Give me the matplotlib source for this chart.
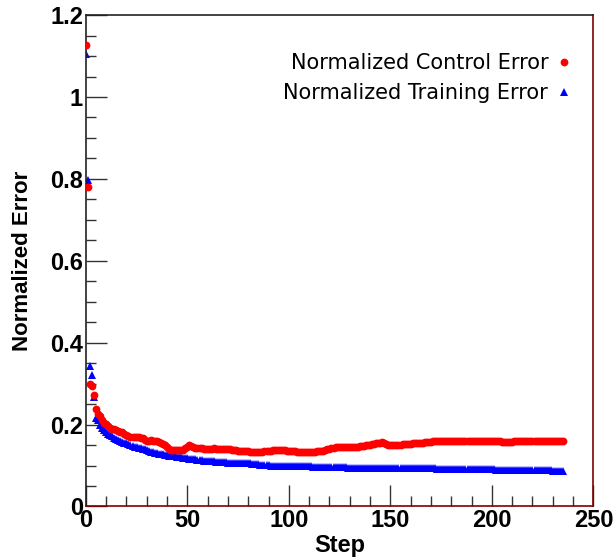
import matplotlib
matplotlib.use('Agg')
import matplotlib.pyplot as plt
import numpy as np
from matplotlib.ticker import MultipleLocator

# normalized control error (red circles), one value per step
control_err = [
    1.128, 0.781, 0.300, 0.293, 0.272, 0.238, 0.226, 0.220, 0.210, 0.205,
    0.202, 0.196, 0.192, 0.190, 0.188, 0.187, 0.185, 0.183, 0.181, 0.178,
    0.175, 0.172, 0.170, 0.169, 0.169, 0.170, 0.169, 0.168, 0.166, 0.163,
    0.161, 0.161, 0.162, 0.161, 0.161, 0.160, 0.157, 0.154, 0.153, 0.150,
    0.145, 0.141, 0.139, 0.138, 0.137, 0.137, 0.137, 0.138, 0.139, 0.142,
    0.146, 0.149, 0.148, 0.145, 0.143, 0.143, 0.142, 0.142, 0.141, 0.141,
    0.141, 0.141, 0.141, 0.142, 0.141, 0.141, 0.140, 0.140, 0.141, 0.141,
    0.141, 0.140, 0.139, 0.138, 0.137, 0.136, 0.136, 0.136, 0.135, 0.135,
    0.135, 0.134, 0.134, 0.134, 0.134, 0.134, 0.134, 0.134, 0.135, 0.135,
    0.136, 0.136, 0.137, 0.137, 0.138, 0.138, 0.138, 0.137, 0.137, 0.136,
    0.136, 0.135, 0.135, 0.135, 0.134, 0.134, 0.134, 0.134, 0.134, 0.134,
    0.134, 0.134, 0.134, 0.134, 0.135, 0.135, 0.135, 0.136, 0.138, 0.140,
    0.141, 0.142, 0.143, 0.144, 0.144, 0.145, 0.145, 0.144, 0.144, 0.145,
    0.145, 0.145, 0.146, 0.146, 0.146, 0.147, 0.147, 0.148, 0.149, 0.150,
    0.151, 0.152, 0.153, 0.154, 0.155, 0.156, 0.157, 0.155, 0.152, 0.151,
    0.151, 0.151, 0.151, 0.151, 0.151, 0.151, 0.152, 0.152, 0.152, 0.153,
    0.153, 0.154, 0.154, 0.155, 0.155, 0.156, 0.156, 0.157, 0.157, 0.158,
    0.158, 0.159, 0.159, 0.160, 0.160, 0.160, 0.160, 0.161, 0.161, 0.161,
    0.161, 0.160, 0.160, 0.160, 0.160, 0.160, 0.160, 0.160, 0.160, 0.160,
    0.160, 0.160, 0.159, 0.159, 0.159, 0.159, 0.159, 0.159, 0.159, 0.159,
    0.159, 0.159, 0.159, 0.159, 0.159, 0.158, 0.157, 0.157, 0.157, 0.158,
    0.158, 0.159, 0.159, 0.159, 0.159, 0.159, 0.159, 0.159, 0.159, 0.159,
    0.159, 0.159, 0.159, 0.159, 0.159, 0.159, 0.159, 0.159, 0.159, 0.159,
    0.159, 0.159, 0.159, 0.159, 0.159, 0.159,
]

# normalized training error (blue triangles)
training_err = [
    1.106, 0.797, 0.342, 0.320, 0.267, 0.216, 0.210, 0.200, 0.192, 0.186,
    0.181, 0.177, 0.174, 0.171, 0.168, 0.165, 0.162, 0.160, 0.158, 0.156,
    0.154, 0.152, 0.150, 0.148, 0.146, 0.144, 0.143, 0.142, 0.141, 0.140,
    0.138, 0.136, 0.134, 0.132, 0.131, 0.130, 0.129, 0.128, 0.127, 0.126,
    0.125, 0.124, 0.123, 0.123, 0.122, 0.121, 0.120, 0.120, 0.119, 0.119,
    0.118, 0.117, 0.116, 0.115, 0.115, 0.114, 0.114, 0.113, 0.112, 0.111,
    0.111, 0.110, 0.110, 0.110, 0.109, 0.109, 0.109, 0.108, 0.108, 0.108,
    0.107, 0.107, 0.107, 0.107, 0.106, 0.106, 0.106, 0.106, 0.106, 0.106,
    0.105, 0.105, 0.104, 0.104, 0.103, 0.103, 0.102, 0.102, 0.101, 0.101,
    0.101, 0.100, 0.100, 0.100, 0.100, 0.100, 0.100, 0.099, 0.099, 0.099,
    0.099, 0.099, 0.099, 0.099, 0.098, 0.098, 0.098, 0.098, 0.098, 0.098,
    0.098, 0.098, 0.097, 0.097, 0.097, 0.097, 0.097, 0.097, 0.096, 0.096,
    0.096, 0.096, 0.096, 0.096, 0.096, 0.096, 0.096, 0.096, 0.096, 0.095,
    0.095, 0.095, 0.095, 0.095, 0.095, 0.095, 0.095, 0.094, 0.094, 0.094,
    0.094, 0.094, 0.094, 0.094, 0.094, 0.094, 0.094, 0.094, 0.094, 0.094,
    0.094, 0.094, 0.094, 0.094, 0.094, 0.094, 0.094, 0.094, 0.094, 0.094,
    0.093, 0.093, 0.093, 0.093, 0.093, 0.093, 0.093, 0.093, 0.093, 0.093,
    0.093, 0.093, 0.093, 0.092, 0.092, 0.092, 0.092, 0.092, 0.092, 0.092,
    0.092, 0.092, 0.092, 0.092, 0.092, 0.092, 0.092, 0.092, 0.092, 0.092,
    0.092, 0.092, 0.092, 0.092, 0.092, 0.091, 0.091, 0.091, 0.091, 0.091,
    0.091, 0.091, 0.090, 0.090, 0.090, 0.090, 0.090, 0.090, 0.090, 0.090,
    0.089, 0.089, 0.089, 0.089, 0.089, 0.089, 0.089, 0.089, 0.089, 0.089,
    0.088, 0.088, 0.088, 0.088, 0.088, 0.088, 0.088, 0.088, 0.088, 0.088,
    0.087, 0.087, 0.087, 0.087, 0.087, 0.086,
]

steps = np.arange(len(control_err))

labels = ['Normalized Control Error', 'Normalized Training Error']

fig = plt.figure(figsize=(6.13, 5.59), dpi=100)
ax = fig.add_axes([0.140, 0.094, 0.828, 0.879])

ax.plot(steps, control_err, 'o', color='#ff0000', markersize=5.6,
        markeredgewidth=0, label=labels[0], zorder=3)
ax.plot(steps, training_err, '^', color='#0000ff', markersize=5.2,
        markeredgewidth=0, label=labels[1], zorder=2)

ax.set_xlim(0, 250)
ax.set_ylim(0, 1.2)

# ROOT-ish axes
ax.xaxis.set_major_locator(MultipleLocator(50))
ax.xaxis.set_minor_locator(MultipleLocator(10))
ax.yaxis.set_major_locator(MultipleLocator(0.2))
ax.yaxis.set_minor_locator(MultipleLocator(0.05))
ax.tick_params(which='both', direction='in', top=False, right=False,
               width=1.0, color='#333333')
ax.tick_params(which='major', length=15, pad=2)
ax.tick_params(which='minor', length=7)

def ylab(v, pos):
    s = '%.1f' % v
    if s.endswith('.0'):
        s = s[:-2]
    return s

ax.yaxis.set_major_formatter(plt.FuncFormatter(ylab))

bold = {'family': 'Liberation Sans', 'weight': 'bold', 'size': 17}
for t in ax.get_xticklabels() + ax.get_yticklabels():
    t.set_fontproperties(matplotlib.font_manager.FontProperties(**bold))

ax.set_xlabel('Step', fontdict=bold, labelpad=1)
ax.set_ylabel('Normalized Error', family='Liberation Sans', weight='bold',
              size=16, labelpad=12)

for side in ['left', 'top']:
    ax.spines[side].set_color('#222222')
for side in ['right', 'bottom']:
    ax.spines[side].set_color('#800000')
for s in ax.spines.values():
    s.set_linewidth(1.2)

leg = ax.legend(loc='upper right', bbox_to_anchor=(0.995, 0.96),
                frameon=False, markerfirst=False,
                prop={'family': 'DejaVu Sans', 'size': 15},
                handletextpad=0.35, labelspacing=0.45, handlelength=0.8)
for t in leg.get_texts():
    t.set_ha('right')

fig.savefig('out.png', dpi=100)
